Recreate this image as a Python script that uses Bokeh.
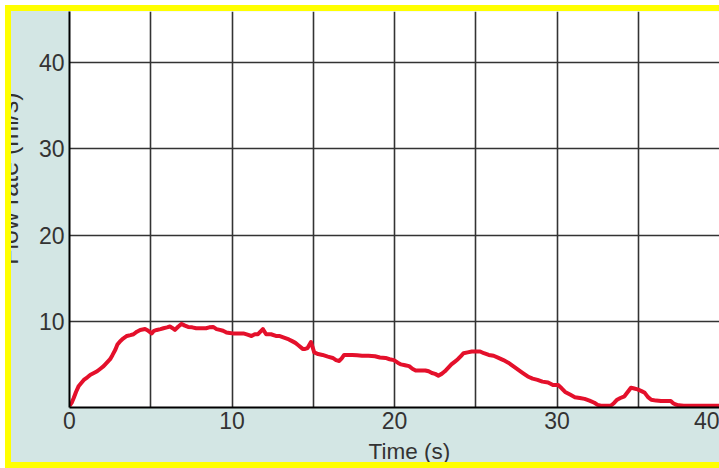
from bokeh.plotting import figure
from bokeh.models import Range1d, FixedTicker, Title
from bokeh.embed import file_html
from bokeh.resources import INLINE

# ---- data ----
time_s = [0.0, 0.15, 0.26, 0.4, 0.57, 0.75, 0.88, 1.1, 1.29, 1.5, 1.7, 1.9, 2.1, 2.3, 2.5,
          2.65, 2.82, 2.95, 3.12, 3.3, 3.53, 3.75, 3.94, 4.15, 4.35, 4.65, 4.85, 5.06, 5.2,
          5.37, 5.6, 5.78, 6.0, 6.18, 6.35, 6.49, 6.7, 6.9, 7.1, 7.3, 7.55, 7.8, 8.1, 8.4,
          8.6, 8.84, 9.05, 9.25, 9.45, 9.66, 9.85, 10.06, 10.4, 10.7, 10.95, 11.2, 11.4,
          11.6, 11.75, 11.9, 12.1, 12.4, 12.7, 12.9, 13.2, 13.5, 13.7, 13.9, 14.1, 14.35,
          14.5, 14.65, 14.86, 15.06, 15.3, 15.57, 15.9, 16.2, 16.4, 16.6, 16.75, 16.9, 17.1,
          17.4, 17.7, 18.0, 18.4, 18.8, 19.1, 19.45, 19.7, 19.96, 20.2, 20.4, 20.65, 20.9,
          21.1, 21.3, 21.6, 21.9, 22.1, 22.3, 22.5, 22.7, 22.9, 23.1, 23.3, 23.5, 23.7,
          23.9, 24.1, 24.25, 24.5, 24.76, 25.0, 25.27, 25.5, 25.8, 26.1, 26.4, 26.7, 27.0,
          27.3, 27.6, 27.9, 28.2, 28.5, 28.8, 29.1, 29.45, 29.75, 30.07, 30.3, 30.5, 30.8,
          31.1, 31.4, 31.7, 32.0, 32.3, 32.5, 32.7, 33.0, 33.3, 33.5, 33.7, 33.9, 34.15,
          34.35, 34.55, 34.75, 34.96, 35.2, 35.4, 35.6, 35.8, 36.1, 36.4, 36.7, 37.0, 37.15,
          37.3, 37.5, 37.8, 38.5, 39.5, 40.5]
flow_ml_s = [0.2, 0.6, 1.1, 1.8, 2.5, 2.9, 3.2, 3.5, 3.8, 4.0, 4.2, 4.5, 4.8, 5.2, 5.6,
             6.1, 6.7, 7.3, 7.7, 8.0, 8.3, 8.4, 8.5, 8.8, 9.0, 9.1, 8.9, 8.6, 8.9,
             9.0, 9.1, 9.2, 9.3, 9.4, 9.2, 9.0, 9.4, 9.7, 9.5, 9.35, 9.3, 9.2, 9.2, 9.2,
             9.3, 9.35, 9.1, 9.0, 8.9, 8.7, 8.65, 8.6, 8.6, 8.6, 8.45, 8.3, 8.5,
             8.5, 8.8, 9.1, 8.5, 8.5, 8.3, 8.3, 8.1, 7.9, 7.7, 7.5, 7.2, 6.8,
             6.8, 6.9, 7.6, 6.4, 6.2, 6.1, 5.9, 5.75, 5.5, 5.4, 5.7, 6.1, 6.1,
             6.1, 6.05, 6.0, 6.0, 5.95, 5.8, 5.75, 5.6, 5.5, 5.2, 5.0, 4.9, 4.8,
             4.5, 4.3, 4.3, 4.3, 4.2, 4.0, 3.9, 3.7, 3.9, 4.2, 4.6, 5.0, 5.3,
             5.6, 6.0, 6.3, 6.4, 6.5, 6.5, 6.5, 6.3, 6.1, 6.0, 5.75, 5.5, 5.2,
             4.8, 4.4, 4.0, 3.6, 3.35, 3.2, 3.0, 2.9, 2.6, 2.6, 2.2, 1.8, 1.5,
             1.2, 1.1, 1.0, 0.8, 0.55, 0.3, 0.2, 0.2, 0.2, 0.5, 0.9, 1.1, 1.3,
             1.8, 2.3, 2.2, 2.1, 1.9, 1.7, 1.2, 0.9, 0.8, 0.75, 0.75, 0.75, 0.5,
             0.35, 0.25, 0.2, 0.2, 0.2, 0.2]

x_tick_values = [0, 10, 20, 30, 40]
x_grid_values = [0, 5, 10, 15, 20, 25, 30, 35, 40]
y_tick_values = [10, 20, 30, 40]

x_axis_title = "Time (s)"
y_axis_title = "Flow rate (ml/s)"

# ---- style ----
PANEL = "#d3e6e4"
RED = "#e4102b"
GRID = "#333333"
TXT = "#333333"
FONT = "Liberation Sans"

LEFT = 110          # left border of the canvas (part of it is shifted off-page)
SHIFT = LEFT - 69   # so that the frame's left edge lands at x = 69 on the page

p = figure(width=719 + SHIFT, height=468,
           x_range=Range1d(0, 40), y_range=Range1d(0, 45.95),
           output_backend="svg", toolbar_location=None, title=None,
           min_border_left=LEFT, min_border_right=0, min_border_top=11, min_border_bottom=60)

p.background_fill_color = "white"
p.border_fill_color = PANEL
p.outline_line_color = None
p.styles = {"margin-left": f"-{SHIFT}px"}
p.stylesheets = [f"""
:host {{ position: relative; }}
:host::before {{
  content: "";
  position: absolute;
  left: {SHIFT + 5}px; top: 5px; width: 6px; height: 463px;
  background: #ffff00;
  box-shadow: -5px -5px 0 0 #ffffff, -5px 0 0 0 #ffffff;
  pointer-events: none;
  z-index: 10;
}}
:host::after {{
  content: "";
  position: absolute;
  left: {SHIFT + 5}px; top: 5px; width: 714px; height: 6px;
  background: #ffff00;
  box-shadow: 0 -5px 0 0 #ffffff, 0 457px 0 0 #ffff00;
  pointer-events: none;
  z-index: 10;
}}
"""]

for ax, ticks in ((p.xaxis[0], x_tick_values), (p.yaxis[0], y_tick_values)):
    ax.ticker = FixedTicker(ticks=ticks)
    ax.major_tick_out = 0
    ax.major_tick_in = 0
    ax.major_tick_line_color = None
    ax.minor_tick_line_color = None
    ax.axis_line_color = "black"
    ax.axis_line_width = 2
    ax.major_label_text_font = FONT
    ax.major_label_text_font_size = "23px"
    ax.major_label_text_color = TXT
p.xaxis.major_label_standoff = 4
p.yaxis.major_label_standoff = 5

p.xgrid.ticker = FixedTicker(ticks=x_grid_values)
p.ygrid.ticker = FixedTicker(ticks=y_tick_values)
for g in (p.xgrid[0], p.ygrid[0]):
    g.grid_line_color = GRID
    g.grid_line_width = 1.6

p.line(time_s, flow_ml_s, line_color=RED, line_width=4, line_join="round")

p.add_layout(Title(text=x_axis_title, align="left", vertical_align="bottom", offset=299,
                   standoff=10, text_font=FONT, text_font_size="22.5px",
                   text_font_style="normal", text_color=TXT), "below")
p.add_layout(Title(text=y_axis_title, align="right", vertical_align="bottom", offset=81,
                   standoff=26, text_font=FONT, text_font_size="25px",
                   text_font_style="normal", text_color=TXT), "left")

open("out.html", "w").write(file_html(p, INLINE))
